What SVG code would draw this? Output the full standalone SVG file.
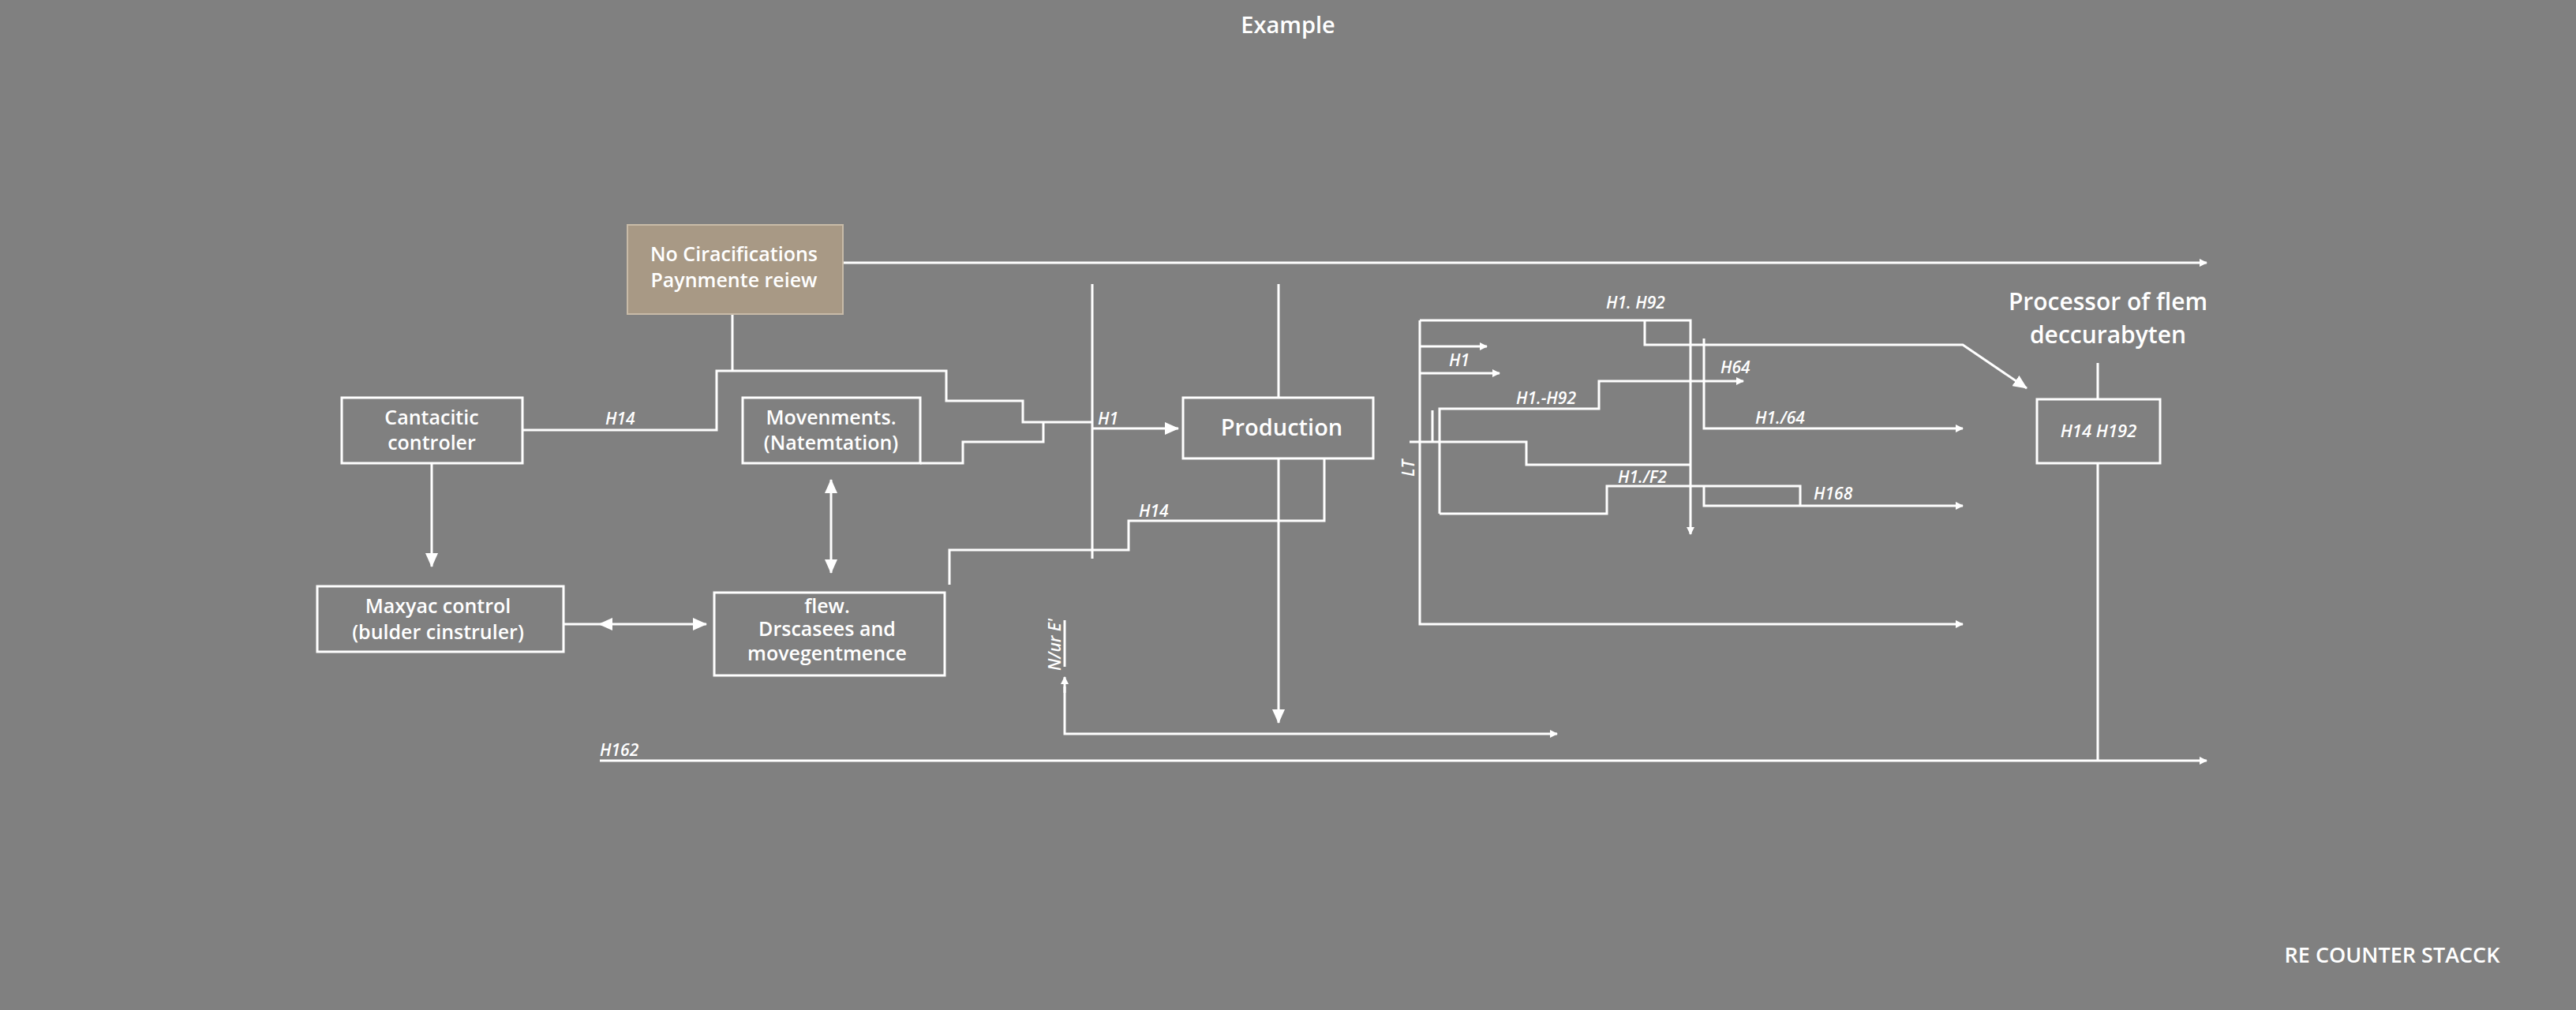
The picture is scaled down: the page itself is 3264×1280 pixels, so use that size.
<svg xmlns="http://www.w3.org/2000/svg" width="3264" height="1280" viewBox="0 0 3264 1280">
<defs>
<marker id="a" markerWidth="10" markerHeight="10" refX="9" refY="5" orient="auto-start-reverse" markerUnits="userSpaceOnUse"><path d="M0,0 L10,5 L0,10 z" fill="#fff"/></marker>
<marker id="b" markerWidth="18" markerHeight="16" refX="17" refY="8" orient="auto-start-reverse" markerUnits="userSpaceOnUse"><path d="M0,0 L18,8 L0,16 z" fill="#fff"/></marker>
<style>
text{font-family:"Open Sans","DejaVu Sans Condensed",sans-serif;font-weight:600;fill:#fff;text-anchor:middle}
.n{font-size:25px}
.l{font-size:21px;font-style:italic;text-anchor:start}
.box{fill:none;stroke:#fff;stroke-width:3}
.c path,.c line{fill:none;stroke:#fff;stroke-width:3}
</style>
</defs>
<rect width="3264" height="1280" fill="#808080"/>
<text x="1632" y="42" font-size="29">Example</text>
<g class="c">
<path d="M1068,333 H2796" marker-end="url(#a)"/>
<path d="M662,545 H908 V470 H1199 V508 H1296 V535 H1384"/>
<path d="M928,398 V470"/>
<path d="M1166,587 H1220 V560 H1322 V535"/>
<path d="M547,587 V718" marker-end="url(#b)"/>
<path d="M714,791 H895" marker-end="url(#b)"/>
<path d="M1053,608 V726" marker-start="url(#b)" marker-end="url(#b)"/>
<path d="M1384,360 V708"/>
<path d="M1384,543 H1493" marker-end="url(#b)"/>
<path d="M1620,360 V504"/>
<path d="M1620,581 V916" marker-end="url(#b)"/>
<path d="M1203,741 V697 H1430 V660 H1678 V581"/>
<path d="M1349,786 V845"/>
<path d="M1349,870 V930 H1973" marker-end="url(#a)"/>
<path d="M1349,878 V858" marker-end="url(#a)"/>
<path d="M760,964 H2796" marker-end="url(#a)"/>
<path d="M1799,406 V791 H2487" marker-end="url(#a)"/>
<path d="M1799,406 H2142 V677" marker-end="url(#a)"/>
<path d="M2084,406 V437 H2487 L2568,492" marker-end="url(#b)"/>
<path d="M1799,439 H1884" marker-end="url(#a)"/>
<path d="M1799,473 H1900" marker-end="url(#a)"/>
<path d="M1824,651 V518 H2026 V483 H2209" marker-end="url(#a)"/>
<path d="M1815,520 V560"/>
<path d="M2159,429 V543 H2487" marker-end="url(#a)"/>
<path d="M1786,560 H1934 V589 H2142"/>
<path d="M1824,651 H2036 V616 H2281 V641"/>
<path d="M2159,616 V641 H2487" marker-end="url(#a)"/>
<path d="M2658,460 V506 M2658,587 V964"/>
</g>
<path d="M758,791 L776,783 L776,799 z" fill="#fff"/>
<g id="tan"><rect x="795" y="285" width="273" height="113" fill="#a89985" stroke="#c8bba8" stroke-width="2"/><text class="n" x="930" y="331">No Ciracifications</text><text class="n" x="930" y="364">Paynmente reiew</text></g>
<g id="cant"><rect class="box" x="433" y="504" width="229" height="83"/><text class="n" x="547" y="538">Cantacitic</text><text class="n" x="547" y="570">controler</text></g>
<g id="mov"><rect class="box" x="941" y="504" width="225" height="83"/><text class="n" x="1053" y="538">Movenments.</text><text class="n" x="1053" y="570">(Natemtation)</text></g>
<g id="prod"><rect class="box" x="1499" y="504" width="241" height="77"/><text x="1624" y="552" font-size="29">Production</text></g>
<g id="max"><rect class="box" x="402" y="743" width="312" height="83"/><text class="n" x="555" y="777">Maxyac control</text><text class="n" x="555" y="810">(bulder cinstruler)</text></g>
<g id="flew"><rect class="box" x="905" y="751" width="292" height="105"/><text class="n" x="1048" y="777">flew.</text><text class="n" x="1048" y="806">Drscasees and</text><text class="n" x="1048" y="837">movegentmence</text></g>
<g id="proc"><text x="2671" y="393" font-size="30">Processor of flem</text><text x="2671" y="435" font-size="30">deccurabyten</text></g>
<g id="hbox"><rect class="box" x="2581" y="506" width="156" height="81"/><text x="2659" y="554" font-size="22" font-style="italic">H14 H192</text></g>
<g id="labels">
<text class="l" x="767" y="538">H14</text>
<text class="l" x="1391" y="538">H1</text>
<text class="l" x="1443" y="655">H14</text>
<text class="l" x="760" y="958">H162</text>
<text class="l" x="2035" y="391">H1. H92</text>
<text class="l" x="1836" y="464">H1</text>
<text class="l" x="1921" y="512">H1.-H92</text>
<text class="l" x="2180" y="473">H64</text>
<text class="l" x="2224" y="537">H1./64</text>
<text class="l" x="2050" y="612">H1./F2</text>
<text class="l" x="2298" y="633">H168</text>
<text class="l" x="0" y="0" transform="translate(1792,604) rotate(-90)" font-size="18">LT</text>
<text class="l" x="0" y="0" transform="translate(1344,850) rotate(-90)" font-size="18">N/ur E'</text>
</g>
<text x="3031" y="1220" font-size="27">RE COUNTER STACCK</text>
</svg>
